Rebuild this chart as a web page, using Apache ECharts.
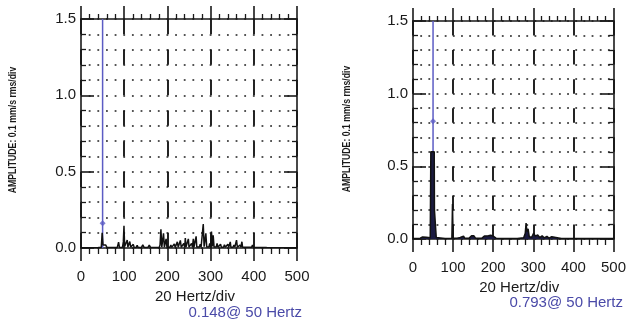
<!DOCTYPE html>
<html>
<head>
<meta charset="utf-8">
<script src="https://cdn.jsdelivr.net/npm/echarts@6/dist/echarts.min.js"></script>
<style>
  html, body { margin: 0; background: #fff; }
  #chart { width: 629px; height: 324px; }
</style>
</head>
<body>
<div id="chart"></div>
<script>
// spectrum traces, [frequency Hz, amplitude]
const leftSpectrum = [
  [0,0.002],[40,0.003],[47,0.004],[49,0.1],[50,0.1],[51,0.02],[54,0.018],[57,0.02],[60,0.004],
  [84,0.004],[87,0.038],[89,0.004],[96,0.004],[98,0.04],[99.5,0.145],[101,0.01],[105,0.006],[107,0.052],[108.5,0.006],
  [111,0.006],[113,0.042],[115,0.005],[119,0.005],[121,0.024],[123,0.004],[128,0.004],[130,0.018],[132,0.004],[140,0.004],
  [143,0.02],[146,0.004],[155,0.004],[158,0.018],[161,0.004],[170,0.004],[173,0.016],[176,0.004],[181,0.004],[183,0.02],
  [185,0.122],[187,0.006],[189,0.006],[191,0.096],[193,0.006],[195,0.006],[197,0.06],[199,0.005],[206,0.005],[208,0.02],
  [210,0.004],[214,0.005],[216,0.026],[218,0.004],[221,0.005],[223,0.04],[225,0.005],[228,0.005],[230,0.05],[232,0.005],
  [236,0.006],[238,0.03],[240,0.005],[241.5,0.065],[243,0.006],[247,0.006],[248.5,0.06],[250,0.006],[254,0.006],
  [256,0.03],[258,0.006],[260,0.06],[261.5,0.006],[265,0.006],[266.5,0.076],[268,0.006],[274,0.006],[276,0.025],[278,0.006],
  [281,0.006],[283,0.157],[285,0.008],[287,0.008],[289,0.096],[291,0.006],[296,0.006],[298,0.03],[300,0.006],[302,0.107],
  [304,0.01],[306,0.083],[308,0.006],[313,0.006],[315,0.03],[317,0.005],[321,0.005],[323,0.025],[325,0.005],[330,0.005],
  [332,0.022],[334,0.005],[338,0.005],[340,0.025],[342,0.005],[344,0.005],[345.5,0.04],[347,0.005],[352,0.005],[354,0.02],
  [356,0.005],[358,0.005],[360,0.052],[362,0.005],[366,0.005],[368,0.02],[370,0.005],[371,0.005],[372.5,0.041],[374,0.005],
  [388,0.005],[390,0.018],[392,0.005],[395,0.005],[397,0.02],[399,0.004],[430,0.003],[500,0.002]
]
const rightSpectrum = [
  [0,0.004],[18,0.005],[24,0.014],[27,0.005],[33,0.012],[37,0.004],[43,0.008],[44.5,0.6],[53,0.6],[53.5,0.2],
  [57,0.2],[58,0.01],[62,0.005],[80,0.004],[97,0.006],[98.5,0.24],[100,0.006],[110,0.006],[118,0.01],[121,0.022],
  [126,0.02],[129,0.006],[140,0.006],[146,0.022],[152,0.022],[156,0.006],[172,0.006],[178,0.02],[182,0.026],[188,0.022],
  [194,0.026],[200,0.02],[204,0.024],[207,0.006],[230,0.004],[260,0.004],[276,0.008],[280,0.04],[282,0.11],[284,0.05],
  [287,0.07],[290,0.015],[296,0.012],[301,0.04],[305,0.02],[311,0.028],[316,0.01],[322,0.022],[327,0.008],[334,0.018],
  [339,0.006],[346,0.016],[350,0.005],[370,0.004],[430,0.003],[500,0.003]
]
// cursor at 50 Hz
const leftCursor = [[50, 1.5], [50, 0]]
const leftMarker = [[50, 0.162]]
const rightCursor = [[50, 1.5], [50, 0]]
const rightMarker = [[50, 0.81]]
const captions = ['0.148@ 50 Hertz', '0.793@ 50 Hertz']

const xName = '20 Hertz/div'
const yName = 'AMPLITUDE: 0.1 mm/s rms/div'
const font = 'Liberation Sans'
const ink = '#1a1a1a'
const cursorBlue = '#5c5cc4'

const grids = [
  { left: 81, top: 19, width: 216, height: 229 },
  { left: 413, top: 21, width: 204, height: 218 }
]

let xAxis = []
let yAxis = []
let series = []

const addPanel = (i, spectrum, cursor, marker, filled) => {
  const g = grids[i]
  const dotStep = g.width / 25
  const dashStep = g.height / 15
  // bottom
  xAxis.push({
    gridIndex: i, type: 'value', position: 'bottom', min: 0, max: 500, interval: 100,
    name: xName, nameLocation: 'middle', nameGap: 41,
    nameTextStyle: { fontFamily: font, fontSize: 15, color: ink, padding: [0, 0, 0, 12] },
    axisLine: { onZero: false, lineStyle: { color: ink, width: 1.6 } },
    axisTick: { show: true, inside: false, length: 13, lineStyle: { color: ink, width: 1.6 } },
    minorTick: { show: true, splitNumber: 5, length: 6, lineStyle: { color: ink, width: 1.3 } },
    axisLabel: { margin: 21, fontFamily: font, fontSize: 15, color: ink },
    splitLine: { show: true, lineStyle: { color: ink, width: 1.9, type: [dashStep, dashStep] } }
  })
  // top
  xAxis.push({
    gridIndex: i, type: 'value', position: 'top', min: 0, max: 500, interval: 100,
    axisLine: { onZero: false, lineStyle: { color: ink, width: 1.6 } },
    axisTick: { show: true, inside: false, length: 13, lineStyle: { color: ink, width: 1.6 } },
    minorTick: { show: true, splitNumber: 5, length: 5, lineStyle: { color: ink, width: 1.3 } },
    axisLabel: { show: false },
    splitLine: { show: false }
  })
  const dots = { color: '#555', width: 1.8, type: [1.8, dotStep - 1.8], dashOffset: 0.9 }
  yAxis.push({
    gridIndex: i, type: 'value', position: 'left', min: 0, max: 1.5, interval: 0.5,
    axisLine: { onZero: false, lineStyle: { color: ink, width: 1.6 } },
    axisTick: { show: true, inside: true, length: 13, lineStyle: { color: ink, width: 1.6 } },
    minorTick: { show: true, splitNumber: 5, length: 5, lineStyle: { color: ink, width: 1.3 } },
    axisLabel: { margin: 5, fontFamily: font, fontSize: 15, color: ink, formatter: (v) => v.toFixed(1) },
    splitLine: { show: true, lineStyle: dots },
    minorSplitLine: { show: true, lineStyle: dots }
  })
  yAxis.push({
    gridIndex: i, type: 'value', position: 'right', min: 0, max: 1.5, interval: 0.5,
    axisLine: { onZero: false, lineStyle: { color: ink, width: 1.6 } },
    axisTick: { show: true, inside: true, length: 13, lineStyle: { color: ink, width: 1.6 } },
    minorTick: { show: true, splitNumber: 5, length: 5, lineStyle: { color: ink, width: 1.3 } },
    axisLabel: { show: false },
    splitLine: { show: false }
  })
  series.push({
    type: 'line', xAxisIndex: i * 2, yAxisIndex: i * 2, data: cursor,
    symbol: 'none', silent: true, z: 1,
    lineStyle: { color: cursorBlue, width: 1.5 }
  })
  series.push({
    type: 'line', xAxisIndex: i * 2, yAxisIndex: i * 2, data: spectrum,
    symbol: 'none', silent: true, z: 3,
    lineStyle: { color: '#111', width: 1.5 },
    areaStyle: filled ? { color: '#1a1a40', opacity: 1 } : null
  })
  series.push({
    type: 'scatter', xAxisIndex: i * 2, yAxisIndex: i * 2, data: marker,
    symbol: 'diamond', symbolSize: 6, silent: true, z: 4,
    itemStyle: { color: cursorBlue }
  })
}

addPanel(0, leftSpectrum, leftCursor, leftMarker, false)
addPanel(1, rightSpectrum, rightCursor, rightMarker, true)

const yNameText = (x, y) => ({
  type: 'text', x: x, y: y, rotation: Math.PI / 2, scaleX: 0.87,
  style: { text: yName, align: 'center', verticalAlign: 'middle', fontFamily: font, fontSize: 10, fontWeight: 'bold', fill: ink }
})

const chart = echarts.init(document.getElementById('chart'), null, { renderer: 'canvas' })
chart.setOption({
  animation: false,
  backgroundColor: '#fff',
  grid: grids.map((g) => ({ ...g, show: false })),
  xAxis: xAxis,
  yAxis: yAxis,
  series: series,
  graphic: [
    yNameText(13, 130),
    yNameText(347, 129),
    { type: 'text', x: 302, y: 313, style: { text: captions[0], align: 'right', verticalAlign: 'middle', fontFamily: font, fontSize: 15, fill: '#4a4aa8' } },
    { type: 'text', x: 623, y: 303, style: { text: captions[1], align: 'right', verticalAlign: 'middle', fontFamily: font, fontSize: 15, fill: '#4a4aa8' } }
  ]
})
</script>
</body>
</html>
